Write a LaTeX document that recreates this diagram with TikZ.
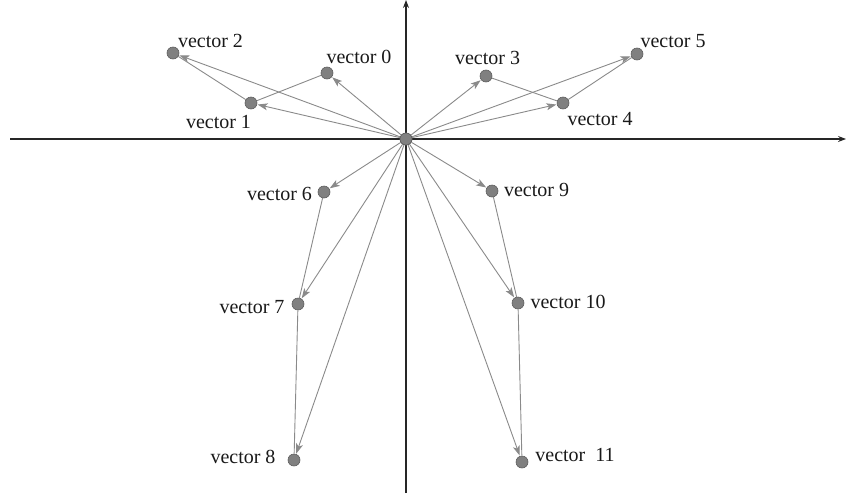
\documentclass[tikz,border=0pt]{standalone}
\usepackage{fontspec}
\setmainfont{Liberation Serif}
\usetikzlibrary{arrows.meta}
\definecolor{vecline}{HTML}{8A8A8A}
\definecolor{dotfill}{HTML}{808080}
\definecolor{dotdraw}{HTML}{5E5E5E}
\definecolor{axiscol}{HTML}{262626}
\begin{document}
\begin{tikzpicture}[x=1pt,y=-1pt,
  dot/.style={circle,fill=dotfill,draw=dotdraw,line width=0.6pt,inner sep=0pt,minimum size=12pt},
  vec/.style={draw=vecline,line width=0.9pt,-{Stealth[length=10pt,width=7pt,inset=2.5pt]},shorten >=0.5pt},
  link/.style={draw=vecline,line width=0.9pt},
  axis/.style={draw=axiscol,line width=1.1pt,-{Stealth[length=8pt,width=6pt]}},
  lab/.style={anchor=base,inner sep=0pt,text=black!90,font=\fontsize{20}{24}\selectfont}]
\useasboundingbox (0,0) rectangle (846,496);
% axes
\coordinate (xl) at (10,139);
\coordinate (xr) at (846,139);
\coordinate (yb) at (406,493);
\coordinate (yt) at (406,0);
\draw[axis] (xl) -- (xr);
\draw[axis] (yb) -- (yt);
% points
\node[dot] (o) at (406,139) {};
\node[dot] (v0) at (327,73) {};
\node[dot] (v1) at (251,103) {};
\node[dot] (v2) at (173,53) {};
\node[dot] (v3) at (486,76) {};
\node[dot] (v4) at (563,103) {};
\node[dot] (v5) at (637,54) {};
\node[dot] (v6) at (324,192) {};
\node[dot] (v7) at (298,304) {};
\node[dot] (v8) at (294,460) {};
\node[dot] (v9) at (492,191) {};
\node[dot] (v10) at (518,303) {};
\node[dot] (v11) at (522,462) {};
% links
\draw[link] (v0) -- (v1);
\draw[link] (v1) -- (v2);
\draw[link] (v3) -- (v4);
\draw[link] (v4) -- (v5);
\draw[link] (v6) -- (v7);
\draw[link] (v7) -- (v8);
\draw[link] (v9) -- (v10);
\draw[link] (v10) -- (v11);
% vectors
\foreach \t in {v0,v1,v2,v3,v4,v5,v6,v7,v8,v9,v10,v11}
  \draw[vec] (o) -- (\t);
\node[dot] at (o) {};
% labels
\node[lab] (l0) at (359,63) {vector 0};
\node[lab] (l1) at (218.5,128) {vector 1};
\node[lab] (l2) at (210.5,47) {vector 2};
\node[lab] (l3) at (487.5,64) {vector 3};
\node[lab] (l4) at (600,125) {vector 4};
\node[lab] (l5) at (673,47) {vector 5};
\node[lab] (l6) at (279.5,200) {vector 6};
\node[lab] (l7) at (252,313) {vector 7};
\node[lab] (l8) at (243,463) {vector 8};
\node[lab] (l9) at (536.5,196) {vector 9};
\node[lab] (l10) at (568,308) {vector 10};
\node[lab] (l11) at (575,461) {vector\ \ 11};
\end{tikzpicture}
\end{document}
